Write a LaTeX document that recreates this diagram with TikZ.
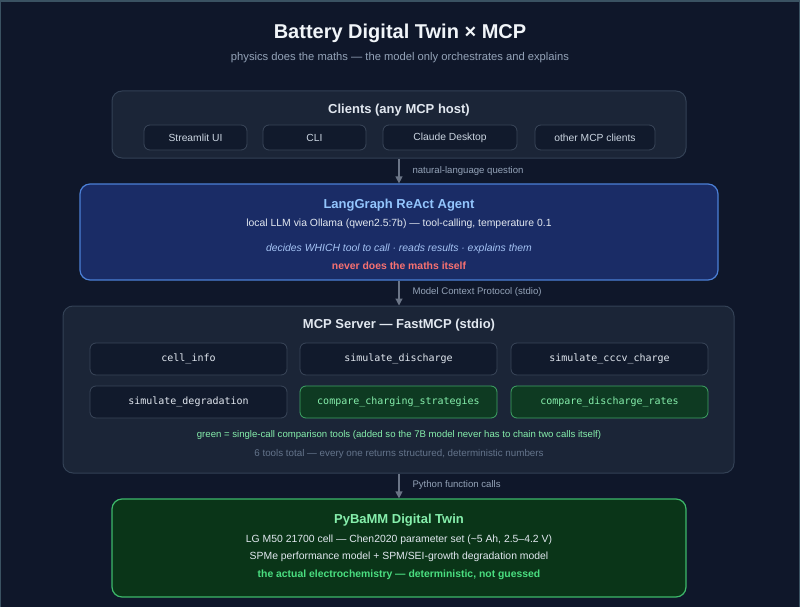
\documentclass[tikz,border=0pt]{standalone}
\usepackage{fontspec}
\setmainfont{Liberation Sans}
\newfontfamily\monofnt{DejaVu Sans Mono}
\usetikzlibrary{arrows.meta}
\definecolor{bg}{HTML}{0F172A}
\definecolor{frame}{HTML}{3A5262}
\definecolor{titlec}{HTML}{F1F5F9}
\definecolor{subc}{HTML}{94A3B8}
\definecolor{panelfill}{HTML}{1B2537}
\definecolor{panelborder}{HTML}{334155}
\definecolor{chipfill}{HTML}{111A2C}
\definecolor{chipborder}{HTML}{3A4659}
\definecolor{agentfill}{HTML}{1A2C66}
\definecolor{agentborder}{HTML}{4B7FD6}
\definecolor{agenttitle}{HTML}{93C5FD}
\definecolor{bodyc}{HTML}{E2E8F0}
\definecolor{chiptext}{HTML}{CBD5E1}
\definecolor{italc}{HTML}{A5C4F5}
\definecolor{redc}{HTML}{F87171}
\definecolor{gfill}{HTML}{0E3A22}
\definecolor{gborder}{HTML}{3FA565}
\definecolor{gtext}{HTML}{86EFAC}
\definecolor{graynote}{HTML}{64748B}
\definecolor{pyfill}{HTML}{0A3518}
\definecolor{pyborder}{HTML}{3DB86A}
\definecolor{pybold}{HTML}{4ADE80}
\definecolor{arrowc}{HTML}{6B7587}
\begin{document}
\begin{tikzpicture}[x=1pt,y=-1pt,
  panel/.style={draw=panelborder,fill=panelfill,line width=1pt,rounded corners=10pt},
  chip/.style={draw=chipborder,fill=chipfill,line width=0.8pt,rounded corners=6pt,text=chiptext,font=\fontsize{10.3}{12}\selectfont},
  tool/.style={draw=chipborder,fill=chipfill,line width=0.8pt,rounded corners=6pt,text=bodyc,font=\monofnt\fontsize{10}{12}\selectfont},
  gtool/.style={draw=gborder,fill=gfill,line width=0.8pt,rounded corners=6pt,text=gtext,font=\monofnt\fontsize{10}{12}\selectfont},
  hdr/.style={font=\bfseries\fontsize{13}{15}\selectfont},
  txt/.style={font=\fontsize{10.4}{12}\selectfont,text=bodyc},
  lbl/.style={font=\fontsize{9.6}{11}\selectfont,text=subc,anchor=west},
  conn/.style={draw=arrowc,line width=1.2pt,-{Triangle[length=7pt,width=7pt]}}
]
\useasboundingbox (0,0) rectangle (800,607);
\fill[bg] (0,0) rectangle (800,607);
\fill[frame] (0,0) rectangle (800,2);
\fill[frame] (0,0) rectangle (1,607);
\fill[frame] (799,0) rectangle (800,607);

\node[text=titlec,font=\bfseries\fontsize{20}{24}\selectfont] (title) at (400,33) {Battery Digital Twin × MCP};
\node[text=subc,font=\fontsize{11.2}{13}\selectfont] (subtitle) at (400,58) {physics does the maths — the model only orchestrates and explains};

% Clients
\node[panel,minimum width=574pt,minimum height=67pt] (clients) at (399,124.5) {};
\node[hdr,text=bodyc] (clientsT) at (399,110) {Clients (any MCP host)};
\node[chip,minimum width=103pt,minimum height=25pt] (c1) at (195.5,137.5) {Streamlit UI};
\node[chip,minimum width=103pt,minimum height=25pt] (c2) at (314.5,137.5) {CLI};
\node[chip,minimum width=134pt,minimum height=25pt] (c3) at (450,137.5) {Claude Desktop};
\node[chip,minimum width=120pt,minimum height=25pt] (c4) at (595,137.5) {other MCP clients};

% Agent
\node[draw=agentborder,fill=agentfill,line width=1.2pt,rounded corners=10pt,minimum width=638pt,minimum height=96pt] (agent) at (399,232) {};
\node[hdr,text=agenttitle] (agentT) at (399,205) {LangGraph ReAct Agent};
\node[txt] (agentL1) at (399,224) {local LLM via Ollama (qwen2.5:7b) — tool-calling, temperature 0.1};
\node[txt,text=italc,font=\itshape\fontsize{10.4}{12}\selectfont] (agentL2) at (399,249) {decides WHICH tool to call · reads results · explains them};
\node[text=redc,font=\bfseries\fontsize{10.4}{12}\selectfont] (agentL3) at (399,266) {never does the maths itself};

% Server
\node[panel,minimum width=671pt,minimum height=167pt] (server) at (398.5,389.5) {};
\node[hdr,text=bodyc] (serverT) at (399,325) {MCP Server — FastMCP (stdio)};
\node[tool,minimum width=197pt,minimum height=32pt] (t1) at (188.5,359) {cell\_info};
\node[tool,minimum width=197pt,minimum height=32pt] (t2) at (398.5,359) {simulate\_discharge};
\node[tool,minimum width=197pt,minimum height=32pt] (t3) at (609.5,359) {simulate\_cccv\_charge};
\node[tool,minimum width=197pt,minimum height=32pt] (t4) at (188.5,402) {simulate\_degradation};
\node[gtool,minimum width=197pt,minimum height=32pt] (t5) at (398.5,402) {compare\_charging\_strategies};
\node[gtool,minimum width=197pt,minimum height=32pt] (t6) at (609.5,402) {compare\_discharge\_rates};
\node[text=gtext,font=\fontsize{9.6}{11}\selectfont] (gnote) at (399,435) {green = single-call comparison tools (added so the 7B model never has to chain two calls itself)};
\node[text=graynote,font=\fontsize{9.8}{11}\selectfont] (tnote) at (399,454) {6 tools total — every one returns structured, deterministic numbers};

% PyBaMM
\node[draw=pyborder,fill=pyfill,line width=1.2pt,rounded corners=10pt,minimum width=574pt,minimum height=98pt] (py) at (399,548) {};
\node[hdr,text=gtext] (pyT) at (399,520) {PyBaMM Digital Twin};
\node[txt] (pyL1) at (399,540) {LG M50 21700 cell — Chen2020 parameter set (\textasciitilde5 Ah, 2.5–4.2 V)};
\node[txt] (pyL2) at (399,557) {SPMe performance model + SPM/SEI-growth degradation model};
\node[text=pybold,font=\bfseries\fontsize{10.4}{12}\selectfont] (pyL3) at (399,575) {the actual electrochemistry — deterministic, not guessed};

% connectors
\draw[conn] (clients.south) -- (agent.north);
\node[lbl] (l1) at (409,171) {natural-language question};
\draw[conn] (agent.south) -- (server.north -| agent.south);
\node[lbl] (l2) at (409,292) {Model Context Protocol (stdio)};
\draw[conn] (server.south -| py.north) -- (py.north);
\node[lbl] (l3) at (409,485) {Python function calls};
\end{tikzpicture}
\end{document}
